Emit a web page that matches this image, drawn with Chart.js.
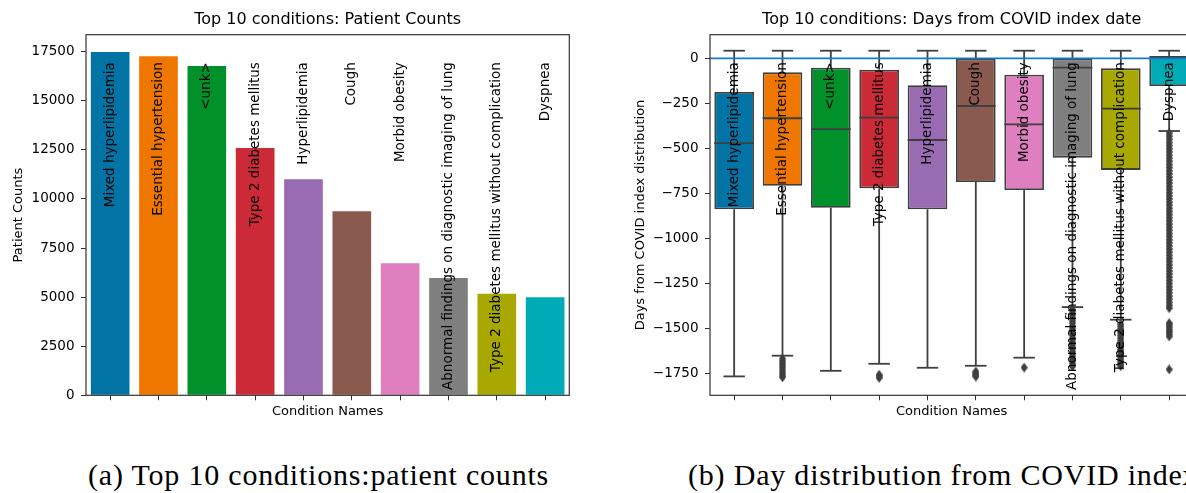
<!DOCTYPE html>
<html>
<head>
<meta charset="utf-8">
<script src="https://cdn.jsdelivr.net/npm/chart.js@4.4.1/dist/chart.umd.min.js"></script>
<style>
  html, body { margin: 0; padding: 0; background: #fff; }
  body { width: 1186px; height: 493px; overflow: hidden; position: relative; }
  .chart { position: absolute; top: 0; width: 600px; height: 430px; }
  #leftBox { left: 0; }
  #rightBox { left: 624px; }
  .caption { position: absolute; top: 458px; font-family: 'Liberation Serif', serif; font-size: 30px; letter-spacing: 0.8px; white-space: nowrap; color: #000; }
</style>
</head>
<body>
<div class="chart" id="leftBox"><canvas id="countsChart"></canvas></div>
<div class="chart" id="rightBox"><canvas id="daysChart"></canvas></div>
<div class="caption" style="left:88px">(a) Top 10 conditions:patient counts</div>
<div class="caption" style="left:688px">(b) Day distribution from COVID index date</div>
<script>
const conditions = ['Mixed hyperlipidemia', 'Essential hypertension', '<unk>', 'Type 2 diabetes mellitus',
  'Hyperlipidemia', 'Cough', 'Morbid obesity', 'Abnormal findings on diagnostic imaging of lung',
  'Type 2 diabetes mellitus without complication', 'Dyspnea'];

// left panel
const patientCounts = [17490, 17270, 16770, 12600, 11000, 9370, 6720, 5970, 5175, 4990];
const countTicks = [0, 2500, 5000, 7500, 10000, 12500, 15000, 17500];

// right panel: box plot summary (days from index date)
const whiskerHigh = [42, 42, 42, 42, 42, 42, 42, 42, 42, 42];
const q3Days = [-187, -78, -52, -63, -150, -2, -91, -1, -56, 13];
const medianDays = [-471, -333, -394, -330, -454, -265, -367, -52, -280, 3];
const q1Days = [-839, -708, -830, -722, -839, -687, -732, -552, -620, -154];
const whiskerLow = [-1767, -1652, -1736, -1697, -1719, -1708, -1663, -1382, -1452, -404];
const outlierDays = [
  [],
  [-1668, -1680, -1692, -1704, -1716, -1728, -1740, -1752, -1764, -1772],
  [],
  [-1758, -1766, -1775],
  [],
  [-1740, -1750, -1760, -1768],
  [-1718],
  [-1395, -1408, -1421, -1433, -1447, -1460, -1472, -1486, -1499, -1511, -1525, -1538, -1551, -1563,
   -1577, -1590, -1603, -1616, -1629, -1642, -1655, -1668, -1681, -1694, -1706, -1712],
  [-1476, -1489, -1502, -1515, -1528, -1541, -1555, -1568, -1581, -1594, -1607, -1620, -1634, -1647,
   -1660, -1673, -1686, -1699, -1710],
  [-416, -433, -450, -468, -485, -503, -520, -538, -555, -572, -590, -607, -625, -642, -660, -677,
   -694, -712, -729, -747, -764, -781, -799, -816, -834, -851, -868, -886, -903, -921, -938, -955,
   -973, -990, -1008, -1025, -1042, -1060, -1077, -1095, -1112, -1129, -1147, -1164, -1182, -1199,
   -1216, -1234, -1251, -1269, -1286, -1303, -1321, -1338, -1356, -1373, -1388, -1471, -1482, -1495,
   -1508, -1520, -1533, -1545, -1728]
];
const dayTicks = [-1750, -1500, -1250, -1000, -750, -500, -250, 0];

const palette = ['#0173a5', '#ef7700', '#00912b', '#cc2a36', '#996bb2', '#8b5a4e', '#e07fbf', '#7f7f7f', '#a8a800', '#00abb8'];
const FRAME = '#333';
const LINE_GRAY = '#3f3f3f';
const ZERO_BLUE = '#1479c9';

Chart.defaults.font.family = "'DejaVu Sans', sans-serif";
Chart.defaults.font.size = 13;
Chart.defaults.color = '#000';
Chart.defaults.animation = false;

// thin diamond marker for fliers
const diamond = document.createElement('canvas');
diamond.width = 7; diamond.height = 10;
(function(){
  const c = diamond.getContext('2d');
  c.fillStyle = LINE_GRAY;
  c.beginPath(); c.moveTo(3.5, 0); c.lineTo(7, 5); c.lineTo(3.5, 10); c.lineTo(0, 5); c.closePath(); c.fill();
})();

function line(ctx, x1, y1, x2, y2){
  ctx.beginPath(); ctx.moveTo(x1, y1); ctx.lineTo(x2, y2); ctx.stroke();
}

// title, in-plot rotated condition names, and the axes frame
function decorations(titleText){
  return {
    id: 'decorations',
    afterDatasetsDraw(chart){
      const {ctx, chartArea, scales} = chart;
      ctx.save();
      ctx.fillStyle = '#000';
      ctx.font = "13.5px 'DejaVu Sans'";
      ctx.textAlign = 'right';
      ctx.textBaseline = 'middle';
      conditions.forEach((name, i) => {
        ctx.save();
        ctx.translate(scales.x.getPixelForValue(i), chartArea.top + 27.5);
        ctx.rotate(-Math.PI / 2);
        ctx.fillText(name, 0, 0);
        ctx.restore();
      });
      ctx.font = "16px 'DejaVu Sans'";
      ctx.textAlign = 'center';
      ctx.fillText(titleText, (chartArea.left + chartArea.right) / 2, 20);
      ctx.strokeStyle = FRAME;
      ctx.lineWidth = 1.2;
      ctx.strokeRect(chartArea.left, chartArea.top, chartArea.right - chartArea.left, chartArea.bottom - chartArea.top);
      ctx.restore();
    }
  };
}

// whiskers, caps, medians and the zero reference line
const boxParts = {
  id: 'boxParts',
  afterDatasetsDraw(chart){
    const {ctx, chartArea, scales: {y}} = chart;
    const boxes = chart.getDatasetMeta(0).data;
    ctx.save();
    ctx.strokeStyle = LINE_GRAY;
    ctx.lineWidth = 1.8;
    boxes.forEach((bar, i) => {
      const cx = bar.x, half = bar.width / 2, cap = bar.width * 0.27;
      const yHi = y.getPixelForValue(whiskerHigh[i]);
      const yLo = y.getPixelForValue(whiskerLow[i]);
      line(ctx, cx, y.getPixelForValue(q3Days[i]), cx, yHi);
      line(ctx, cx, y.getPixelForValue(q1Days[i]), cx, yLo);
      line(ctx, cx - cap, yHi, cx + cap, yHi);
      line(ctx, cx - cap, yLo, cx + cap, yLo);
      const ym = y.getPixelForValue(medianDays[i]);
      line(ctx, cx - half, ym, cx + half, ym);
    });
    ctx.strokeStyle = ZERO_BLUE;
    ctx.lineWidth = 1.8;
    const y0 = y.getPixelForValue(0);
    line(ctx, chartArea.left, y0, chartArea.right, y0);
    ctx.restore();
  }
};

function xScale(){
  return {
    type: 'category',
    offset: true,
    grid: {offset: false, drawOnChartArea: false, drawTicks: true, tickLength: 5, tickColor: FRAME, tickWidth: 1},
    border: {display: false},
    ticks: {display: false},
    title: {display: true, text: 'Condition Names', padding: {top: 0, bottom: 10.2}},
    afterFit(s){ s.height = 34.7; }
  };
}

function yScale(min, max, tickValues, label, titlePad, fmt){
  return {
    min, max,
    afterBuildTicks(s){ s.ticks = tickValues.map(v => ({value: v})); },
    grid: {drawOnChartArea: false, drawTicks: true, tickLength: 5, tickColor: FRAME, tickWidth: 1},
    border: {display: false},
    ticks: {padding: 6.5, font: {size: 13.5}, callback: fmt},
    title: {display: true, text: label, padding: {top: titlePad, bottom: 0}},
    afterFit(s){ s.width = 86; }
  };
}

const layout = {padding: {top: 34.7, right: 30.7, left: 0, bottom: 0}};

new Chart(document.getElementById('countsChart'), {
  type: 'bar',
  data: {
    labels: conditions,
    datasets: [{
      data: patientCounts,
      backgroundColor: palette,
      borderWidth: 0,
      barPercentage: 0.8,
      categoryPercentage: 1.0
    }]
  },
  options: {
    responsive: true,
    maintainAspectRatio: false,
    layout,
    plugins: {legend: {display: false}, tooltip: {enabled: false}},
    scales: {
      x: xScale(),
      y: yScale(0, 18366, countTicks, 'Patient Counts', 11.2, v => String(v))
    }
  },
  plugins: [decorations('Top 10 conditions: Patient Counts')]
});

const fliers = [];
outlierDays.forEach((list, i) => list.forEach(v => fliers.push({x: conditions[i], y: v})));

new Chart(document.getElementById('daysChart'), {
  type: 'bar',
  data: {
    labels: conditions,
    datasets: [{
      type: 'bar',
      data: conditions.map((c, i) => [q1Days[i], q3Days[i]]),
      backgroundColor: palette,
      borderColor: LINE_GRAY,
      borderWidth: 1.8,
      borderSkipped: false,
      barPercentage: 0.82,
      categoryPercentage: 1.0,
      order: 1
    }, {
      type: 'scatter',
      data: fliers,
      pointStyle: diamond,
      pointRadius: 3,
      order: 0
    }]
  },
  options: {
    responsive: true,
    maintainAspectRatio: false,
    layout,
    plugins: {legend: {display: false}, tooltip: {enabled: false}},
    scales: {
      x: xScale(),
      y: yScale(-1872, 131, dayTicks, 'Days from COVID index distribution', 8.7,
        v => v < 0 ? '\u2212' + Math.abs(v) : String(v))
    }
  },
  plugins: [boxParts, decorations('Top 10 conditions: Days from COVID index date')]
});
</script>
</body>
</html>
